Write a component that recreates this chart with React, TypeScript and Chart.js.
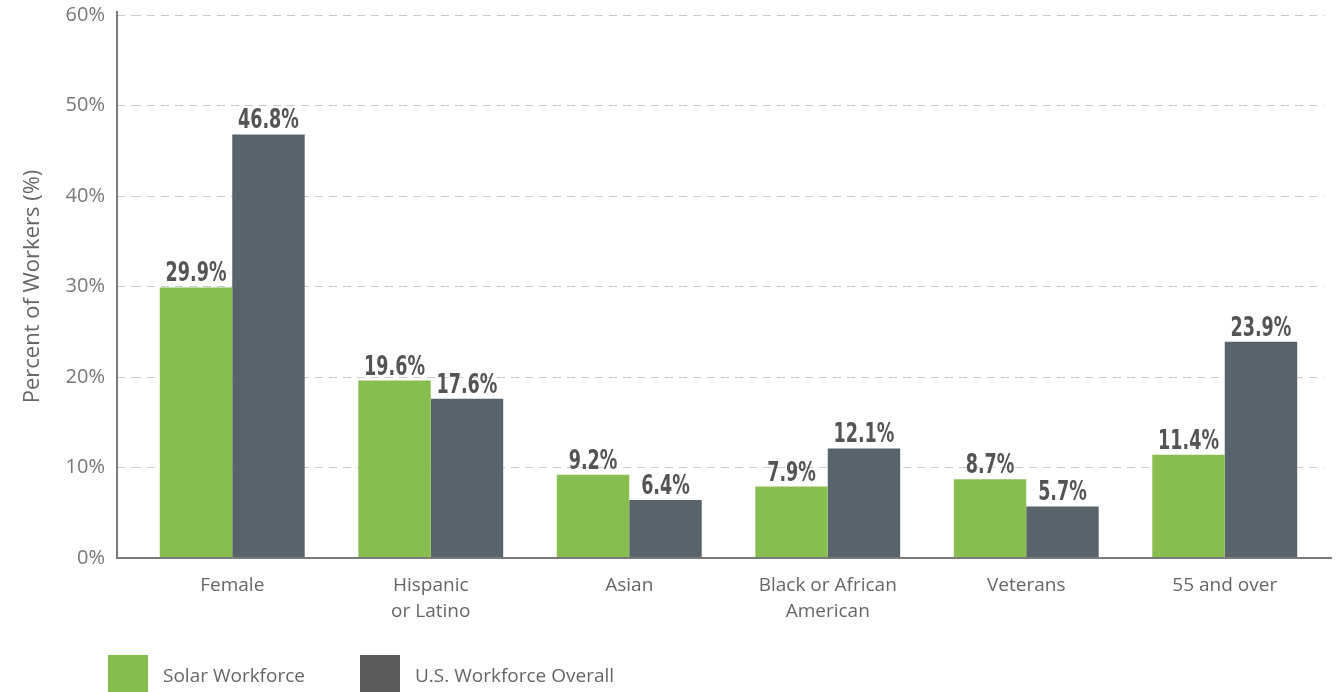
import React, { useEffect, useRef } from "react";
import { Chart, registerables } from "chart.js";

Chart.register(...registerables);

const categories: (string | string[])[] = [
  "Female",
  ["Hispanic", "or Latino"],
  "Asian",
  ["Black or African", "American"],
  "Veterans",
  "55 and over",
];
const solarWorkforce = [29.9, 19.6, 9.2, 7.9, 8.7, 11.4];
const usWorkforce = [46.8, 17.6, 6.4, 12.1, 5.7, 23.9];
const seriesLabels = ["Solar Workforce", "U.S. Workforce Overall"];
const barColors = ["#88be50", "#59636b"];
const legendColors = ["#86bd4c", "#595959"];
const yTicks = [0, 10, 20, 30, 40, 50, 60];

const FONT = "'Open Sans', 'Liberation Sans', sans-serif";

const valueLabelPlugin = {
  id: "valueLabels",
  afterDatasetsDraw(chart: any) {
    const ctx = chart.ctx;
    ctx.save();
    ctx.fillStyle = "#545454";
    ctx.font = "bold 26px 'DejaVu Sans Condensed', 'DejaVu Sans', sans-serif";
    ctx.textAlign = "center";
    ctx.textBaseline = "alphabetic";
    chart.data.datasets.forEach((ds: any, di: number) => {
      const meta = chart.getDatasetMeta(di);
      meta.data.forEach((el: any, i: number) => {
        const v = ds.data[i];
        const text = v.toFixed(1) + "%";
        ctx.save();
        ctx.translate(el.x, el.y - 6);
        ctx.scale(0.75, 1);
        ctx.fillText(text, 0, 0);
        ctx.restore();
      });
    });
    ctx.restore();
  },
};

const axesPlugin = {
  id: "axesLines",
  afterDraw(chart: any) {
    const { ctx, chartArea } = chart;
    ctx.save();
    ctx.strokeStyle = "#7a7a7a";
    ctx.lineWidth = 2;
    const x0 = chartArea.left - 16;
    ctx.beginPath();
    ctx.moveTo(x0, chartArea.top - 4);
    ctx.lineTo(x0, chartArea.bottom);
    ctx.lineTo(chartArea.right + 8, chartArea.bottom);
    ctx.stroke();
    ctx.restore();
  },
};

const legendPlugin = {
  id: "customLegend",
  afterDraw(chart: any) {
    const ctx = chart.ctx;
    ctx.save();
    ctx.font = `19px ${FONT}`;
    ctx.textBaseline = "middle";
    ctx.textAlign = "left";
    const xs = [108, 360];
    chart.data.datasets.forEach((ds: any, i: number) => {
      ctx.fillStyle = legendColors[i];
      ctx.fillRect(xs[i], 655, 40, 40);
      ctx.fillStyle = "#666666";
      ctx.fillText(ds.label, xs[i] + 55, 677);
    });
    ctx.restore();
  },
};

export default function App() {
  const canvasRef = useRef<HTMLCanvasElement | null>(null);

  useEffect(() => {
    if (!canvasRef.current) return;
    const chart = new Chart(canvasRef.current, {
      type: "bar",
      data: {
        labels: categories,
        datasets: [
          {
            label: seriesLabels[0],
            data: solarWorkforce,
            backgroundColor: barColors[0],
            categoryPercentage: 0.73,
            barPercentage: 1,
          },
          {
            label: seriesLabels[1],
            data: usWorkforce,
            backgroundColor: barColors[1],
            categoryPercentage: 0.73,
            barPercentage: 1,
          },
        ],
      },
      options: {
        animation: false,
        responsive: true,
        maintainAspectRatio: false,
        layout: { padding: { top: 15, right: 13, bottom: 0, left: 0 } },
        plugins: {
          legend: { display: false },
          tooltip: { enabled: false },
        },
        scales: {
          x: {
            grid: { display: false },
            border: { display: false },
            ticks: {
              color: "#666666",
              font: { family: FONT, size: 19, lineHeight: 1.4 },
              padding: 6,
              maxRotation: 0,
              autoSkip: false,
            },
            afterFit(scale: any) {
              scale.height = 134;
              scale.paddingLeft = 0;
              scale.paddingRight = 0;
            },
          },
          y: {
            min: 0,
            max: 60,
            afterBuildTicks(scale: any) {
              scale.ticks = yTicks.map((v) => ({ value: v }));
            },
            border: { display: false, dash: [8, 6] },
            grid: {
              color: (c: any) => (c.tick && c.tick.value === 0 ? "rgba(0,0,0,0)" : "#cacaca"),
              tickColor: (c: any) => (c.tick && c.tick.value === 0 ? "rgba(0,0,0,0)" : "#cacaca"),
              lineWidth: 1,
              tickBorderDash: [8, 6],
              drawTicks: true,
              tickLength: 16,
            },
            ticks: {
              color: "#777777",
              font: { family: FONT, size: 20 },
              padding: 12,
              callback: (v: any) => v + "%",
            },
            title: {
              display: true,
              text: "Percent of Workers (%)",
              color: "#666666",
              font: { family: FONT, size: 22 },
              padding: { top: 20, bottom: 0 },
            },
            afterFit(scale: any) {
              scale.width = 133;
              scale.paddingTop = 0;
              scale.paddingBottom = 0;
            },
          },
        },
      },
      plugins: [valueLabelPlugin, axesPlugin, legendPlugin],
    });
    return () => chart.destroy();
  }, []);

  return (
    <div style={{ position: "fixed", left: 0, top: 0, width: 1337, height: 692, background: "#ffffff" }}>
      <canvas ref={canvasRef} />
    </div>
  );
}
